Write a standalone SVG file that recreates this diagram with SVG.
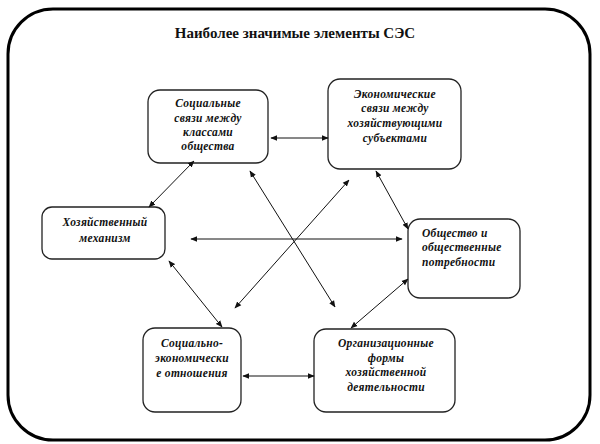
<svg xmlns="http://www.w3.org/2000/svg" width="600" height="444" viewBox="0 0 600 444">
<style>
.frame{fill:#fff;stroke:#000;stroke-width:3}
.box{fill:#fff;stroke:#222;stroke-width:1.3}
.t{font-family:'Liberation Serif','DejaVu Serif','Times New Roman',serif;font-size:11.5px;font-style:italic;font-weight:bold;fill:#111;text-anchor:middle;letter-spacing:0.3px}
.title{font-family:'Liberation Serif','DejaVu Serif','Times New Roman',serif;font-size:15px;font-weight:bold;fill:#111;text-anchor:middle}
.c line{stroke:#111;stroke-width:1;marker-start:url(#a);marker-end:url(#a)}
</style>
<defs>
<marker id="a" viewBox="0 0 10 10" refX="9" refY="5" markerWidth="7" markerHeight="7" orient="auto-start-reverse" markerUnits="userSpaceOnUse">
<path d="M0,1 L10,5 L0,9 Z" fill="#111"/>
</marker>
</defs>
<rect class="frame" x="8" y="9" width="582" height="431" rx="45" ry="45"/>
<text class="title" x="295" y="38">Наиболее значимые элементы СЭС</text>
<g id="n1"><rect class="box" x="148" y="90" width="120" height="73" rx="12"/>
<text class="t" x="208" y="107">Социальные</text><text class="t" x="208" y="122">связи между</text><text class="t" x="208" y="136">классами</text><text class="t" x="208" y="150">общества</text></g>
<g id="n2"><rect class="box" x="328" y="79" width="133" height="90" rx="12"/>
<text class="t" x="395" y="98">Экономические</text><text class="t" x="395" y="112">связи между</text><text class="t" x="395" y="127">хозяйствующими</text><text class="t" x="395" y="142">субъектами</text></g>
<g id="n3"><rect class="box" x="42" y="207" width="123" height="52" rx="10"/>
<text class="t" x="105" y="226">Хозяйственный</text><text class="t" x="105" y="242">механизм</text></g>
<g id="n4"><rect class="box" x="408" y="219" width="112" height="79" rx="12"/>
<text class="t" x="422" y="237" style="text-anchor:start">Общество и</text><text class="t" x="422" y="251" style="text-anchor:start">общественные</text><text class="t" x="422" y="266" style="text-anchor:start">потребности</text></g>
<g id="n5"><rect class="box" x="143" y="328" width="98" height="84" rx="12"/>
<text class="t" x="192" y="347">Социально-</text><text class="t" x="192" y="362">экономически</text><text class="t" x="192" y="377">е отношения</text></g>
<g id="n6"><rect class="box" x="314" y="329" width="141" height="83" rx="12"/>
<text class="t" x="386" y="347">Организационные</text><text class="t" x="386" y="362">формы</text><text class="t" x="386" y="376">хозяйственной</text><text class="t" x="386" y="391">деятельности</text></g>
<g class="c" id="connectors">
<line x1="271" y1="138" x2="328" y2="138"/>
<line x1="194" y1="161" x2="149" y2="207"/>
<line x1="191" y1="239" x2="402" y2="239"/>
<line x1="250" y1="171" x2="335" y2="307"/>
<line x1="349" y1="180" x2="235" y2="308"/>
<line x1="376" y1="171" x2="408" y2="229"/>
<line x1="169" y1="261" x2="222" y2="327"/>
<line x1="408" y1="279" x2="351" y2="328"/>
<line x1="243" y1="376" x2="314" y2="376"/>
</g>
</svg>
